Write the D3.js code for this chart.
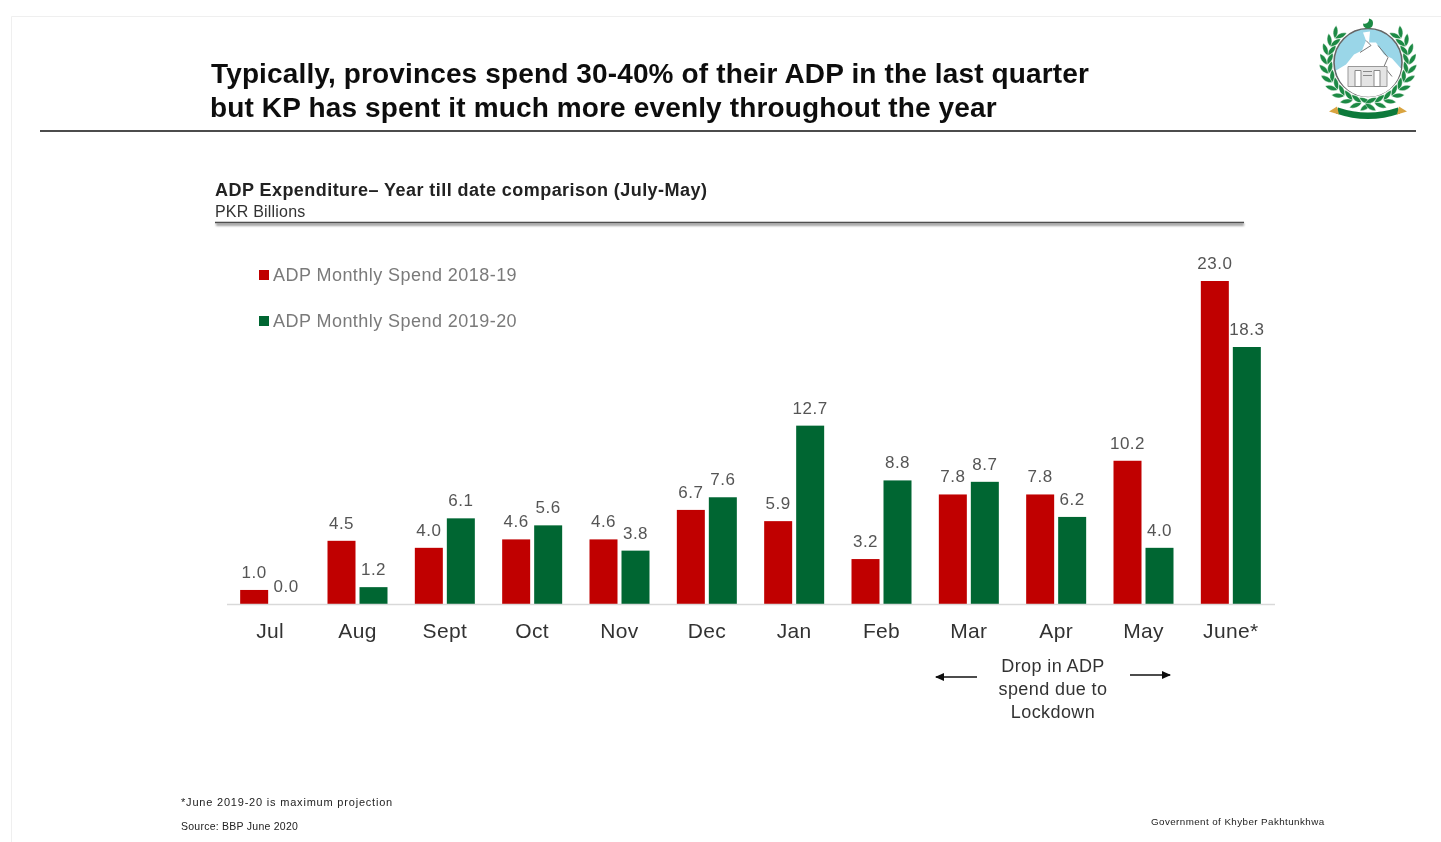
<!DOCTYPE html>
<html><head><meta charset="utf-8">
<style>
html,body{margin:0;padding:0;background:#fff;overflow:hidden}
text{font-family:"Liberation Sans",Arial,sans-serif}
</style>
<script src="https://cdn.jsdelivr.net/npm/d3@7/dist/d3.min.js"></script>
</head><body>
<svg id="c" width="1441" height="842"></svg>
<script>
const months=["Jul","Aug","Sept","Oct","Nov","Dec","Jan","Feb","Mar","Apr","May","June*"];
const spend1819=[1.0,4.5,4.0,4.6,4.6,6.7,5.9,3.2,7.8,7.8,10.2,23.0];
const spend1920=[0.0,1.2,6.1,5.6,3.8,7.6,12.7,8.8,8.7,6.2,4.0,18.3];
const seriesNames=["ADP Monthly Spend 2018-19","ADP Monthly Spend 2019-20"];
const seriesColors=["#c00000","#006633"];
const titleLines=["Typically, provinces spend 30-40% of their ADP in the last quarter","but KP has spent it much more evenly throughout the year"];
const noteLines=["Drop in ADP","spend due to","Lockdown"];

const svg=d3.select("#c");
const defs=svg.append("defs");
const shadow=defs.append("filter").attr("id","sh").attr("x","-2%").attr("y","-300%").attr("width","104%").attr("height","700%");
shadow.append("feGaussianBlur").attr("stdDeviation",1.3);
const soft=defs.append("filter").attr("id","soft");
soft.append("feGaussianBlur").attr("stdDeviation",0.4);
const logoBlur=defs.append("filter").attr("id","lb");
logoBlur.append("feGaussianBlur").attr("stdDeviation",0.6);
const mk=defs.append("marker").attr("id","arr").attr("markerWidth",10).attr("markerHeight",8).attr("refX",8).attr("refY",4).attr("orient","auto").attr("markerUnits","userSpaceOnUse");
mk.append("path").attr("d","M0,0L9,4L0,8Z").attr("fill","#111");

// page edge
svg.append("path").attr("d","M11.5,842V16.5H1441").attr("fill","none").attr("stroke","#efefef");

const g=svg.append("g").attr("filter","url(#soft)");

// heading
g.selectAll(".ttl").data(titleLines).join("text").attr("class","ttl")
 .attr("x",(d,i)=>i?210:211).attr("y",(d,i)=>83+i*34).attr("font-size",28).attr("letter-spacing",0.14).attr("font-weight","bold").attr("fill","#111")
 .text(d=>d);
g.append("line").attr("x1",40).attr("x2",1416).attr("y1",131).attr("y2",131).attr("stroke","#111").attr("stroke-width",1.6);

g.append("text").attr("x",215).attr("y",196).attr("font-size",18).attr("letter-spacing",0.45).attr("font-weight","bold").attr("fill","#222").text("ADP Expenditure– Year till date comparison (July-May)");
g.append("text").attr("x",215).attr("y",217).attr("font-size",16).attr("letter-spacing",0.2).attr("fill","#333").text("PKR Billions");
svg.append("rect").attr("x",216).attr("width",1028).attr("y",223.5).attr("height",2).attr("fill","#777").attr("filter","url(#sh)");
g.append("line").attr("x1",215).attr("x2",1244).attr("y1",222.5).attr("y2",222.5).attr("stroke","#444").attr("stroke-width",1.4);

// scales
const x=d3.scaleBand().domain(months).range([226.5,1274.5]).padding(0);
const y=d3.scaleLinear().domain([0,23]).range([604,281]);
const barW=28, gap=4;
const off=[-barW-gap/2, gap/2];

// legend
const leg=g.selectAll(".leg").data(seriesNames).join("g").attr("class","leg").attr("transform",(d,i)=>`translate(259,${275+i*46})`);
leg.append("rect").attr("y",-5).attr("width",10).attr("height",10).attr("fill",(d,i)=>seriesColors[i]);
leg.append("text").attr("x",14).attr("y",6).attr("font-size",18).attr("letter-spacing",0.45).attr("fill","#7a7a7a").text(d=>d);

// bars
[spend1819,spend1920].forEach((vals,s)=>{
  const cx=m=>x(m)+x.bandwidth()/2+off[s];
  g.selectAll(".bar"+s).data(vals).join("rect").attr("class","bar"+s)
   .attr("x",(d,i)=>cx(months[i])).attr("width",barW)
   .attr("y",d=>y(d)).attr("height",d=>y(0)-y(d)).attr("fill",seriesColors[s]);
  g.selectAll(".lab"+s).data(vals).join("text").attr("class","lab"+s)
   .attr("x",(d,i)=>cx(months[i])+barW/2).attr("y",d=>y(d)-12).attr("text-anchor","middle")
   .attr("font-size",17).attr("letter-spacing",0.5).attr("fill","#555").text(d=>d.toFixed(1));
});

// axis
const ax=g.append("g").attr("transform","translate(0,604)").call(d3.axisBottom(x).tickSize(0).tickPadding(19));
ax.select(".domain").attr("stroke","#d9d9d9").attr("stroke-width",1.5);
ax.selectAll("text").attr("font-size",21).attr("letter-spacing",0.35).attr("fill","#333").attr("font-family",'"Liberation Sans",Arial,sans-serif');

// note
g.selectAll(".nt").data(noteLines).join("text").attr("class","nt").attr("x",1053).attr("y",(d,i)=>672+i*23)
 .attr("text-anchor","middle").attr("font-size",18).attr("letter-spacing",0.4).attr("fill","#333").text(d=>d);
g.append("line").attr("x1",977).attr("x2",936).attr("y1",677).attr("y2",677).attr("stroke","#111").attr("stroke-width",1.4).attr("marker-end","url(#arr)");
g.append("line").attr("x1",1130).attr("x2",1170).attr("y1",675).attr("y2",675).attr("stroke","#111").attr("stroke-width",1.4).attr("marker-end","url(#arr)");

// footer
g.append("text").attr("x",181).attr("y",806).attr("font-size",11).attr("letter-spacing",0.8).attr("fill","#222").text("*June 2019-20 is maximum projection");
g.append("text").attr("x",181).attr("y",830).attr("font-size",10.5).attr("letter-spacing",0.25).attr("fill","#222").text("Source: BBP June 2020");
g.append("text").attr("x",1151).attr("y",825).attr("font-size",9.8).attr("letter-spacing",0.42).attr("fill","#222").text("Government of Khyber Pakhtunkhwa");

// emblem
const L=svg.append("g").attr("transform","translate(1368,62.5)").attr("filter","url(#lb)");
const leaf="M0,0C4,-3.2 9,-3 13,0C9,3 4,3.2 0,0Z";
[-1,1].forEach(side=>{
  for(let k=0;k<11;k++){
    const deg=-36+k*13, a=deg*Math.PI/180, r=41;
    const px=side*r*Math.cos(a), py=r*Math.sin(a);
    [-1,1].forEach(f=>{
      L.append("path").attr("d",leaf).attr("fill","#1f8a44").attr("stroke","#fff").attr("stroke-width",0.4)
       .attr("transform",`translate(${px},${py}) scale(${side},1) rotate(${deg-90+f*30})`);
    });
  }
});
L.append("circle").attr("r",34).attr("fill","#9ad6e8").attr("stroke","#666").attr("stroke-width",1.6);
L.append("path").attr("d","M-32,8L-22,2L-14,-8L-6,-12L-2,-22L-5,-30L2,-31L1,-20L8,-20L16,-8L24,-4L33,6A33,33 0 0 1 -32,8Z").attr("fill","#fff");
L.append("path").attr("d","M-2,-22L3,-17L-8,-10M10,-17L20,-5L16,4L24,14").attr("fill","none").attr("stroke","#777").attr("stroke-width",1);
L.append("path").attr("d","M-20,4H19V24H-20Z").attr("fill","#e4e4e4").attr("stroke","#999");
L.append("path").attr("d","M-13,8H-7V24H-13ZM6,8H12V24H6ZM-5,9H4M-5,13H4").attr("fill","#fff").attr("stroke","#888");
L.append("path").attr("d","M1,-44A5,5 0 1 1 -5,-39A4.5,4.5 0 0 0 1,-44Z").attr("fill","#1f8a44");
L.append("path").attr("d","M-30,45Q0,55 30,45L32,51Q0,62 -32,51Z").attr("fill","#0f7a3a");
L.append("path").attr("d","M-39,49L-31,44L-29,52ZM39,49L31,44L29,52Z").attr("fill","#d9a441");
</script>
</body></html>
